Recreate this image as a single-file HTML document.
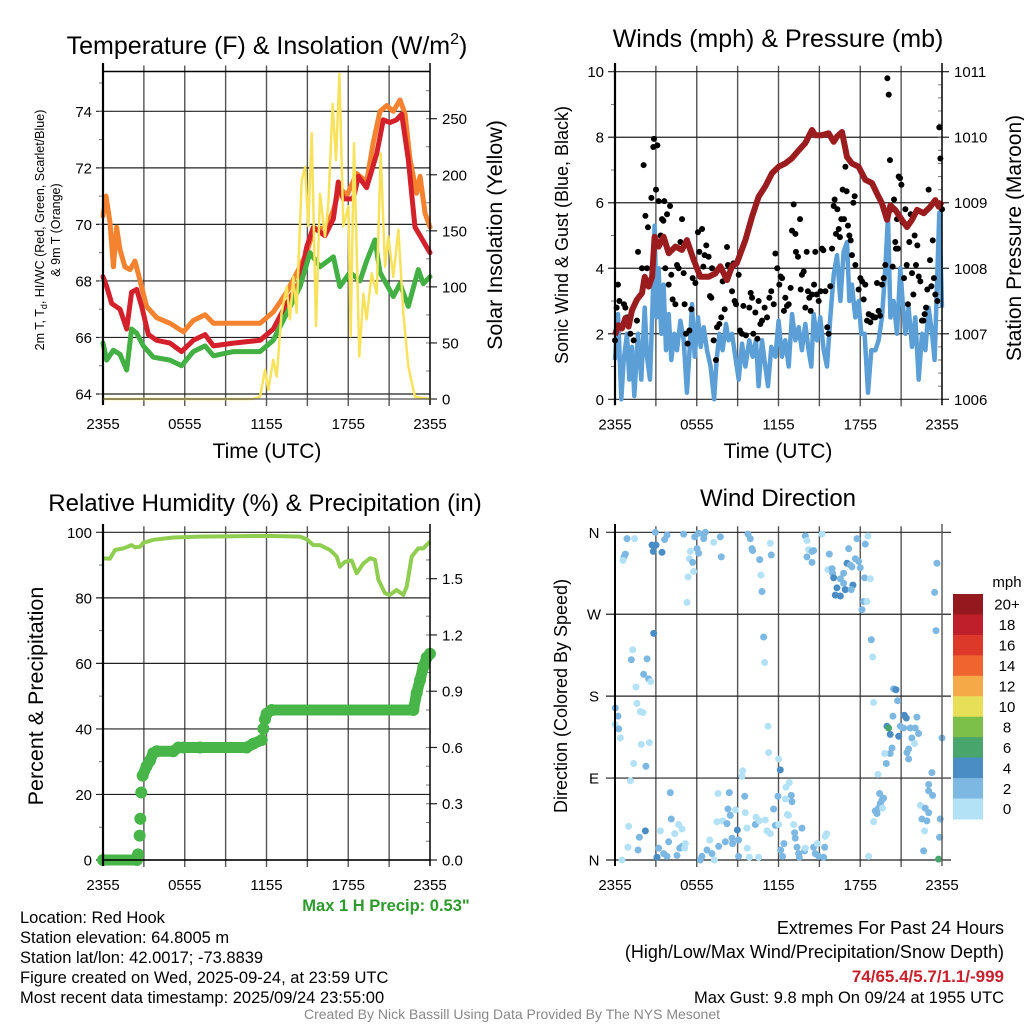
<!DOCTYPE html>
<html><head><meta charset="utf-8">
<style>
html,body{margin:0;padding:0;background:#fff;}
svg{display:block;font-family:"Liberation Sans",Arial,sans-serif;}
</style></head>
<body>
<svg id="fig" width="1024" height="1024" viewBox="0 0 1024 1024" xmlns="http://www.w3.org/2000/svg">
<rect width="1024" height="1024" fill="#fff"/>
</svg>
<script>
// ---------- DATA ----------
const xTickLabels = ["2355","0555","1155","1755","2355"];
// Temperature panel
const t9mHours = [0,0.22,0.51,0.76,1.00,1.25,1.61,1.98,2.35,2.72,3.20,3.94,4.92,5.90,6.63,7.49,8.10,9.57,11.52,12.50,13.48,14.46,14.95,15.44,16.42,16.91,17.39,17.88,18.62,19.35,19.84,20.33,20.82,21.31,21.80,22.17,22.53,23.02,23.27,23.63,24];
const t9mValues = [70.3,71.0,70.1,68.5,69.9,69.1,68.5,68.4,68.7,68.0,67.1,66.7,66.5,66.2,66.6,66.8,66.5,66.5,66.5,66.9,67.6,68.5,69.0,69.8,69.9,70.5,71.3,71.0,71.8,71.5,72.9,74.0,74.2,74.0,74.4,73.9,72.3,71.1,71.7,70.4,69.9];
const t2mHours = [0,0.27,0.64,1.25,1.74,2.10,2.47,2.84,3.33,3.94,4.92,5.77,6.63,7.49,8.10,9.57,11.52,12.50,13.48,14.46,14.95,15.44,16.29,16.91,17.27,17.64,18.37,18.74,19.35,20.09,20.57,21.06,21.55,21.92,22.41,22.90,23.27,23.63,24];
const t2mValues = [68.15,67.8,67.2,67.0,66.3,67.6,67.7,67.1,66.1,65.9,65.8,65.5,65.9,66.1,65.7,65.8,65.9,66.3,67.2,68.0,69.2,69.9,69.6,70.2,71.5,70.9,70.9,71.7,71.3,72.5,73.7,73.6,73.7,73.9,72.3,69.9,69.6,69.3,69.0];
const tdHours = [0,0.27,0.76,1.25,1.74,2.10,2.47,2.96,3.69,4.92,5.77,6.63,7.49,8.10,9.57,11.52,12.50,13.48,14.46,15.19,15.93,16.91,17.39,18.13,18.86,19.35,19.96,20.33,21.31,21.80,22.41,23.14,23.51,24];
const tdValues = [65.8,65.2,65.55,65.4,64.85,66.3,66.15,65.7,65.3,65.2,65.0,65.5,65.7,65.35,65.5,65.5,65.9,66.85,67.8,69.0,68.5,68.85,67.8,68.3,68.0,68.7,69.45,68.3,67.45,67.9,67.1,68.4,67.9,68.15];
const solarHours = [0,11.03,11.52,11.89,12.13,12.50,12.75,13.11,13.48,13.72,13.97,14.21,14.58,14.83,15.07,15.32,15.63,15.93,16.29,16.54,16.86,17.10,17.35,17.64,18.01,18.18,18.42,18.81,19.11,19.35,19.72,20.09,20.38,20.70,20.94,21.31,21.68,22.04,22.41,22.90,24];
const solarValues = [0,0,2,26,8,35,20,77,100,71,109,77,195,207,154,237,65,183,145,175,263,213,290,154,172,56,228,38,94,71,112,94,219,118,145,109,151,77,29,2,0];
const tempTicks = [64,66,68,70,72,74];
const solarTicks = [0,50,100,150,200,250];
// Wind panel
const windHours = [0,.22,.46,.64,.88,1.05,1.25,1.42,1.69,1.93,2.18,2.35,2.57,2.77,2.91,3.06,3.20,3.40,3.57,3.74,3.94,4.13,4.35,4.55,4.80,5.04,5.28,5.46,5.65,5.85,6.09,6.29,6.51,6.75,7.02,7.27,7.46,7.66,7.90,8.15,8.34,8.59,8.83,9.08,9.32,9.57,9.86,10.11,10.35,10.54,10.79,11.03,11.23,11.47,11.77,12.01,12.26,12.50,12.75,12.99,13.24,13.48,13.72,13.97,14.21,14.41,14.58,14.83,15.07,15.32,15.56,15.80,16.05,16.29,16.54,16.78,17.03,17.20,17.39,17.64,17.88,18.08,18.32,18.57,18.81,19.11,19.35,19.60,19.84,20.04,20.21,20.45,20.70,20.94,21.11,21.31,21.55,21.80,22.04,22.29,22.53,22.78,23.02,23.27,23.46,23.63,23.80,24];
const windValues = [1.2,2.6,0.0,1.2,2.0,0.6,1.6,0.1,2.0,0.6,2.8,1.3,0.6,3.0,5.3,2.5,4.0,2.0,3.5,1.5,2.6,1.2,2.0,1.5,2.4,1.8,0.2,1.4,2.9,1.3,2.5,1.6,2.2,1.5,1.0,0.0,1.2,2.0,1.5,2.3,1.8,2.0,1.3,0.6,1.7,1.0,1.8,1.3,1.8,0.4,1.8,1.0,0.4,1.6,1.3,2.4,1.3,1.8,1.0,2.6,1.8,2.2,1.5,2.3,1.5,1.0,2.6,1.8,2.5,1.5,1.0,2.5,3.8,4.4,3.0,4.5,4.8,3.0,3.5,2.5,3.0,2.0,2.0,0.2,1.5,1.5,1.8,2.5,4.0,5.6,2.5,3.0,2.0,4.0,3.0,2.0,2.8,1.6,2.5,0.6,2.0,1.5,2.8,2.0,1.2,3.5,5.7,2.8];
const gustPoints = [[0,1.8],[0.12,2.8],[0.22,3.5],[0.32,3.0],[0.66,2.9],[0.76,2.8],[0.88,2.5],[1.13,2.0],[1.37,1.8],[1.61,2.4],[1.69,4.5],[1.98,4.0],[2.10,7.15],[2.23,5.6],[2.35,4.0],[2.42,5.25],[2.67,6.15],[2.81,7.7],[2.86,7.95],[3.01,6.4],[3.11,7.75],[3.20,6.05],[3.35,5.0],[3.45,5.5],[3.55,5.45],[3.62,6.05],[3.69,4.0],[3.82,5.65],[3.94,3.5],[4.04,5.9],[4.13,3.8],[4.23,3.05],[4.43,2.9],[4.55,4.1],[4.67,4.0],[4.80,4.8],[4.92,5.5],[5.04,3.85],[5.11,2.9],[5.21,2.0],[5.33,1.7],[5.46,2.1],[5.60,2.75],[5.70,3.7],[5.90,3.55],[6.09,5.1],[6.19,4.5],[6.39,5.2],[6.48,4.05],[6.58,4.4],[6.70,4.7],[6.87,4.35],[6.97,3.15],[7.07,3.1],[7.12,4.0],[7.24,1.8],[7.41,1.2],[7.49,2.2],[7.66,2.3],[7.80,2.5],[7.90,3.6],[8.05,2.75],[8.22,4.65],[8.29,4.1],[8.46,4.0],[8.59,3.3],[8.69,4.15],[8.78,3.0],[8.88,2.9],[9.08,3.8],[9.17,2.1],[9.32,2.0],[9.42,2.85],[9.61,1.95],[9.86,2.8],[9.96,3.25],[10.06,3.1],[10.15,2.0],[10.30,2.65],[10.45,1.85],[10.54,3.0],[10.67,2.3],[10.79,2.4],[10.98,2.8],[11.16,2.5],[11.33,3.1],[11.47,3.3],[11.65,2.9],[11.77,4.45],[11.91,4.0],[12.06,3.5],[12.16,3.75],[12.26,3.7],[12.40,2.7],[12.50,3.1],[12.62,2.85],[12.75,2.9],[12.89,3.4],[12.99,5.15],[13.11,5.95],[13.24,5.05],[13.28,4.5],[13.43,4.35],[13.58,5.5],[13.63,3.35],[13.72,3.8],[13.85,3.9],[13.97,2.8],[14.07,4.5],[14.16,3.3],[14.26,3.1],[14.36,2.7],[14.46,3.2],[14.61,3.5],[14.70,4.5],[14.80,3.2],[14.95,3.0],[15.09,3.3],[15.19,4.6],[15.29,4.55],[15.44,3.3],[15.58,2.2],[15.68,2.0],[15.80,3.45],[15.93,4.6],[16.05,5.9],[16.12,6.1],[16.22,5.05],[16.32,5.8],[16.42,5.2],[16.51,4.95],[16.61,5.5],[16.71,6.4],[16.81,5.5],[16.91,7.1],[17.00,6.35],[17.10,5.3],[17.20,5.0],[17.30,4.85],[17.39,4.4],[17.49,6.0],[17.59,6.2],[17.64,4.1],[17.88,3.35],[18.01,3.7],[18.13,3.6],[18.25,3.05],[18.37,3.5],[18.50,2.4],[18.62,2.6],[18.74,2.35],[18.86,2.55],[18.98,2.5],[19.11,2.5],[19.23,3.55],[19.35,2.7],[19.45,2.55],[19.60,3.5],[19.72,3.7],[19.84,4.1],[19.99,9.8],[20.09,9.3],[20.18,7.3],[20.28,5.8],[20.38,4.05],[20.48,6.1],[20.57,4.8],[20.62,4.6],[20.70,5.5],[20.77,4.6],[20.82,6.8],[20.92,6.75],[21.02,6.55],[21.11,5.4],[21.21,3.7],[21.31,5.8],[21.41,4.1],[21.50,2.9],[21.60,4.8],[21.70,5.65],[21.80,3.85],[21.90,3.2],[21.99,5.0],[22.09,4.1],[22.19,4.7],[22.29,3.75],[22.41,3.6],[22.53,2.4],[22.63,2.4],[22.73,2.6],[22.83,2.8],[22.92,3.35],[23.02,6.4],[23.12,4.25],[23.22,3.45],[23.32,4.85],[23.41,3.7],[23.51,3.2],[23.66,3.0],[23.80,8.3],[23.88,7.35],[24.00,5.8]];
const presHours = [0,.22,.51,.76,1.0,1.25,1.61,1.98,2.18,2.47,2.72,2.91,3.20,3.57,3.94,4.43,4.92,5.28,5.77,6.26,6.87,7.36,7.73,8.22,8.59,8.95,9.57,10.06,10.54,11.03,11.52,12.01,12.50,12.99,13.48,13.97,14.46,14.70,15.19,15.68,16.05,16.29,16.66,17.03,17.39,17.88,18.37,18.86,19.23,19.60,19.96,20.21,20.57,21.06,21.43,21.80,22.17,22.66,23.14,23.51,23.76,24];
const presValues = [1006.98,1007.13,1007.08,1007.24,1007.11,1007.36,1007.52,1007.62,1007.87,1007.72,1007.87,1008.48,1008.33,1008.48,1008.23,1008.33,1008.28,1008.43,1008.13,1007.87,1007.87,1007.92,1008.03,1007.82,1008.03,1008.08,1008.43,1008.79,1009.09,1009.25,1009.45,1009.55,1009.6,1009.68,1009.80,1009.91,1010.11,1010.03,1010.03,1010.06,1009.93,1010.01,1010.08,1009.70,1009.60,1009.55,1009.35,1009.30,1009.14,1008.99,1008.74,1008.96,1008.89,1008.74,1008.63,1008.74,1008.89,1008.84,1008.94,1009.04,1008.94,1009.02];
const windTicks = [0,2,4,6,8,10];
const presTicks = [1006,1007,1008,1009,1010,1011];
// RH panel
const rhHours = [0,.51,.88,1.49,2.10,2.35,2.72,2.96,3.69,5.16,7.12,12.01,14.46,14.95,15.44,15.93,16.66,17.15,17.39,17.76,18.25,18.62,19.11,19.60,19.96,20.21,20.70,21.06,21.55,22.04,22.29,22.66,23.14,23.51,24];
const rhValues = [92.1,91.9,94.6,95.1,96.1,95.4,95.6,96.8,97.7,98.4,98.7,98.9,98.7,97.9,96.1,96.1,94.6,92.6,89.5,91.0,91.4,87.5,90.5,92.1,91.6,85.5,81.4,80.9,82.4,80.9,83.4,92.6,95.1,95.1,97.2];
const precipHours = [0,2.49,2.57,2.69,2.74,2.81,2.91,3.20,3.45,3.69,3.94,5.16,5.53,5.90,7.12,10.54,11.03,11.65,11.77,11.89,12.01,12.38,22.78,23.02,23.27,23.51,23.76,24];
const precipValues = [0,0,0.03,0.13,0.22,0.36,0.45,0.50,0.53,0.57,0.58,0.58,0.60,0.60,0.60,0.60,0.62,0.64,0.70,0.75,0.78,0.80,0.80,0.89,0.96,1.03,1.08,1.10];
const rhTicks = [0,20,40,60,80,100];
const precipTicks = ["0.0","0.3","0.6","0.9","1.2","1.5"];
// Wind direction panel: [hour, degrees, mph]
const dirPoints = [[0.88,353,3],[1.44,353,1],[0.76,336,3],[0.66,333,3],[0.59,329,1],[2.96,360,3],[2.72,346,5],[3.01,346,5],[2.81,339,5],[3.45,338,5],[3.64,352,3],[3.82,357,3],[5.04,358,3],[5.85,355,3],[6.14,359,3],[6.51,357,3],[6.63,360,3],[6.51,353,3],[7.24,349,1],[7.73,355,3],[5.53,339,1],[6.02,342,3],[6.14,337,3],[5.45,331,1],[5.70,327,3],[5.77,317,1],[5.36,311,1],[5.28,283,1],[7.80,333,3],[9.76,358,3],[9.93,353,3],[10.05,342,3],[10.10,340,3],[10.62,330,3],[11.40,348,1],[11.47,335,3],[10.71,313,1],[10.79,295,3],[13.97,356,3],[14.09,351,1],[15.19,358,1],[14.21,341,1],[14.09,333,3],[14.46,339,3],[14.58,340,3],[14.46,327,3],[15.73,336,3],[17.15,342,3],[17.76,353,3],[18.37,347,3],[18.57,356,1],[17.64,331,3],[17.88,328,3],[17.03,326,5],[17.27,324,3],[17.39,322,3],[18.00,321,3],[15.63,319,1],[15.93,320,3],[15.97,315,3],[16.78,315,3],[16.05,310,5],[16.54,309,3],[16.29,299,5],[16.78,304,3],[16.90,297,5],[17.46,302,5],[16.17,291,5],[16.54,290,5],[17.34,297,3],[18.32,310,3],[18.74,309,1],[18.25,284,3],[18.49,284,1],[18.13,275,3],[23.63,326,3],[23.46,294,3],[23.56,252,3],
[2.84,249,5],[10.91,245,3],[18.81,242,3],[18.91,223,1],[10.98,217,1],[1.20,220,3],[1.30,231,1],[2.35,221,3],[2.10,204,3],[2.47,199,3],[2.62,196,1],[1.54,190,1],[1.61,172,1],[1.86,163,1],[2.05,162,1],[0.02,167,3],[0.22,158,3],[0.0,149,1],[0.27,144,3],[0.39,134,1],[1.93,127,1],[2.52,129,1],[1.37,106,1],[2.27,103,3],[1.13,87,1],[11.23,147,1],[11.28,118,1],[12.01,111,1],[12.13,99,5],[18.98,173,1],[20.45,188,3],[20.62,187,5],[20.74,175,3],[20.40,158,3],[21.23,159,5],[21.38,156,5],[22.16,157,3],[19.96,147,5],[20.08,145,7],[20.20,138,5],[20.82,136,5],[20.94,147,3],[21.18,145,3],[21.67,145,3],[21.79,134,3],[22.04,145,3],[22.28,139,3],[21.99,128,1],[20.33,123,3],[20.20,117,3],[19.79,117,1],[21.55,122,3],[21.43,118,3],[21.55,111,3],[19.91,106,3],[19.30,94,1],[23.26,96,3],[24.0,134,3],
[4.06,74,3],[4.13,45,3],[1.00,37,1],[2.23,32,5],[1.79,25,3],[0.95,14,1],[1.69,11,3],[0.51,0,1],[3.33,32,1],[3.20,13,3],[3.08,3,5],[3.57,7,3],[3.82,4,3],[3.94,20,3],[4.38,29,1],[4.67,39,1],[4.92,34,1],[4.55,5,3],[4.75,13,3],[4.92,15,3],[5.16,18,1],[5.11,13,1],[6.38,4,3],[6.26,0,3],[6.75,11,3],[6.95,22,1],[7.12,7,3],[7.29,0,1],[7.61,15,3],[7.48,42,1],[7.56,73,1],[7.90,43,1],[8.22,40,3],[8.29,56,3],[8.39,74,3],[8.46,49,3],[8.10,20,3],[8.59,24,3],[8.63,18,3],[8.83,55,1],[8.98,33,5],[9.07,22,3],[9.07,4,3],[9.32,92,1],[9.37,98,1],[9.52,70,3],[9.56,52,1],[9.69,35,1],[9.71,13,1],[9.86,3,1],[10.30,39,3],[10.35,47,1],[10.54,3,1],[10.59,43,1],[11.03,44,1],[11.15,32,1],[11.40,29,1],[11.64,56,3],[11.77,38,3],[11.96,70,3],[12.01,39,1],[12.16,11,3],[12.30,4,3],[12.40,18,3],[12.50,67,1],[12.55,80,1],[12.79,85,1],[12.94,71,3],[12.99,64,3],[12.65,50,1],[12.74,49,1],[13.11,39,1],[13.18,30,3],[13.23,24,3],[13.72,35,3],[13.36,14,3],[13.48,7,3],[13.53,3,3],[13.92,10,3],[13.97,13,1],[14.58,14,3],[14.70,7,3],[14.85,18,1],[14.95,4,3],[15.31,3,3],[15.39,14,3],[15.43,26,1],[15.53,29,1],[18.61,4,1],[18.98,42,1],[19.10,54,3],[19.23,51,3],[19.35,57,3],[19.42,73,3],[19.47,62,3],[19.59,66,3],[19.71,68,3],[19.64,57,1],[22.41,60,1],[22.53,45,3],[22.89,43,3],[22.77,57,3],[23.02,52,3],[22.72,32,1],[22.65,10,3],[23.02,83,3],[23.02,76,3],[23.31,71,3],[23.75,1,7],[23.87,45,3],[23.82,25,3]];
const dirTicks = ["N","E","S","W","N"];
const speedBins = ["0","2","4","6","8","10","12","14","16","18","20+"];
const speedColors = ["#b3e1f6","#7db8e2","#4a8cc4","#48a66c","#7cc04a","#e8df59","#f5a947","#ef642f","#dd392b","#bf1f2a","#94181d"];

// ---------- HELPERS ----------
const NS = "http://www.w3.org/2000/svg";
const svg = document.getElementById("fig");
const TICK = 15;
function mk(tag, attrs, parent) {
  const e = document.createElementNS(NS, tag);
  for (const k in attrs) e.setAttribute(k, attrs[k]);
  (parent || svg).appendChild(e);
  return e;
}
function txt(s, x, y, size, opts, parent) {
  const a = Object.assign({x: x, y: y, "font-size": size, fill: "#000", "text-anchor": "middle"}, opts || {});
  const t = mk("text", a, parent);
  t.textContent = s;
  return t;
}
function lin(d0, d1, p0, p1) { return v => p0 + (v - d0) / (d1 - d0) * (p1 - p0); }
function pathFrom(xs, ys, fx, fy) {
  let d = "";
  for (let i = 0; i < Math.min(xs.length, ys.length); i++) d += (i ? "L" : "M") + fx(xs[i]).toFixed(1) + "," + fy(ys[i]).toFixed(1);
  return d;
}
function panelFrame(g, x0, x1, y0, y1, fx) {
  for (let h = 3; h < 24; h += 3) {
    const l = mk("line", {x1: fx(h), x2: fx(h), y1: y0 - 6, y2: y1 + 7, stroke: "#555", "stroke-width": 1.4}, g);
    
    
  }
  xTickLabels.forEach((s, i) => {
    const x = fx(i * 6);
    const t = txt(s, x, y1 + 30, TICK, {}, g);
    
    
  });
}

// ---------- PANEL 1: Temperature ----------
(function(){
  const g = mk("g", {});
  
  
  const x0 = 103, x1 = 430, y0 = 71.5, y1 = 399;
  const fx = lin(0, 24, x0, x1);
  const fy = lin(64, 74, 394, 111.3);
  const fs = lin(0, 250, 399, 118.7);
  panelFrame(g, x0, x1, y0, y1, fx);
  tempTicks.forEach(v => {
    const l = mk("line", {x1: x0 - 7, x2: x1, y1: fy(v), y2: fy(v), stroke: "#222", "stroke-width": 1.2}, g);
    
    
    const t = txt(String(v), x0 - 11, fy(v) + 5.5, TICK, {"text-anchor": "end"}, g);
    
    
  });
  for (let v = 64; v <= 75; v++) mk("line", {x1: x0 - 4, x2: x0, y1: fy(v), y2: fy(v), stroke: "#777"}, g);
  solarTicks.forEach(v => {
    mk("line", {x1: x1, x2: x1 + 7, y1: fs(v), y2: fs(v), stroke: "#222", "stroke-width": 1.2}, g);
    const t = txt(String(v), x1 + 12, fs(v) + 5.5, TICK, {"text-anchor": "start"}, g);
    
    
  });
  for (let v = 0; v <= 290; v += 25) mk("line", {x1: x1 - 4, x2: x1, y1: fs(v), y2: fs(v), stroke: "#777"}, g);
  mk("line", {x1: x0, x2: x1, y1: y0, y2: y0, stroke: "#000", "stroke-width": 1.5}, g);
  const series = [[t9mHours, t9mValues, "#f5822f", fy, 5, "orange-9m-temp-line"], [t2mHours, t2mValues, "#d3202a", fy, 5, "red-2m-temp-line"], [tdHours, tdValues, "#43b043", fy, 5, "green-dewpoint-line"], [solarHours, solarValues, "#f8e25c", fs, 2.5, "yellow-solar-line"]];
  series.forEach(s => {
    const p = mk("path", {d: pathFrom(s[0], s[1], fx, s[3]), fill: "none", stroke: s[2], "stroke-width": s[4], "stroke-linejoin": "round", "stroke-linecap": "round"}, g);
    
    
  });
  mk("line", {x1: x0, x2: x0, y1: 63, y2: y1 + 6, stroke: "#000", "stroke-width": 2.2}, g);
  mk("line", {x1: x1, x2: x1, y1: 63, y2: y1 + 6, stroke: "#000", "stroke-width": 1.5}, g);
  mk("line", {x1: x0, x2: x1, y1: y1, y2: y1, stroke: "#555", "stroke-width": 1.2}, g);
  const ti = mk("text", {x: 267, y: 54, "font-size": 25, "text-anchor": "middle"}, g);
  
  
  ti.innerHTML = 'Temperature (F) &amp; Insolation (W/m<tspan dy="-10" font-size="16">2</tspan><tspan dy="10">)</tspan>';
  const yl = mk("text", {transform: "translate(44,230) rotate(-90)", "font-size": 12.5, "text-anchor": "middle"}, g);
  
  
  yl.innerHTML = '2m T, T<tspan font-size="9" dy="3">d</tspan><tspan dy="-3">, HI/WC (Red, Green, Scarlet/Blue)</tspan>';
  const yl2 = txt("& 9m T (Orange)", 0, 0, 12.5, {transform: "translate(60,230) rotate(-90)"}, g);
  
  
  const yr = txt("Solar Insolation (Yellow)", 0, 0, 21.5, {transform: "translate(502,235) rotate(-90)"}, g);
  
  
  const xl = txt("Time (UTC)", 267, 458, 21, {}, g);
  
  
})();

// ---------- PANEL 2: Winds ----------
(function(){
  const g = mk("g", {});
  
  
  const x0 = 615, x1 = 942, y0 = 71.7, y1 = 399.3;
  const fx = lin(0, 24, x0, x1);
  const fy = lin(0, 10, y1, y0);
  const fp = lin(1006, 1011, y1, y0);
  panelFrame(g, x0, x1, y0, y1, fx);
  windTicks.forEach(v => {
    mk("line", {x1: x0 - 7, x2: x1, y1: fy(v), y2: fy(v), stroke: "#222", "stroke-width": 1.2}, g);
    const t = txt(String(v), x0 - 11, fy(v) + 5.5, TICK, {"text-anchor": "end"}, g);
    
    
  });
  for (let v = 1; v < 10; v += 2) mk("line", {x1: x0 - 4, x2: x0, y1: fy(v), y2: fy(v), stroke: "#777"}, g);
  presTicks.forEach(v => {
    mk("line", {x1: x1, x2: x1 + 7, y1: fp(v), y2: fp(v), stroke: "#222", "stroke-width": 1.2}, g);
    const t = txt(String(v), x1 + 12, fp(v) + 5.5, TICK, {"text-anchor": "start"}, g);
    
    
  });
  for (let v = 1006; v <= 1011; v += 0.2) mk("line", {x1: x1 - 4, x2: x1, y1: fp(v), y2: fp(v), stroke: "#777"}, g);
  const w = mk("path", {d: pathFrom(windHours, windValues, fx, fy), fill: "none", stroke: "#5b9fd6", "stroke-width": 4.5, "stroke-linejoin": "round"}, g);
  
  
  gustPoints.forEach(p => {
    const c = mk("circle", {cx: fx(p[0]), cy: fy(p[1]), r: 3, fill: "#000"}, g);
    
    
  });
  const pr = mk("path", {d: pathFrom(presHours, presValues, fx, fp), fill: "none", stroke: "#9b1c1f", "stroke-width": 6, "stroke-linejoin": "round"}, g);
  
  
  mk("line", {x1: x0, x2: x0, y1: 63, y2: y1 + 6, stroke: "#000", "stroke-width": 2.2}, g);
  mk("line", {x1: x1, x2: x1, y1: 63, y2: y1 + 6, stroke: "#000", "stroke-width": 1.5}, g);
  const ti = txt("Winds (mph) & Pressure (mb)", 778, 47, 25, {}, g);
  
  
  const yl = txt("Sonic Wind & Gust (Blue, Black)", 0, 0, 18, {transform: "translate(568,235) rotate(-90)"}, g);
  
  
  const yr = txt("Station Pressure (Maroon)", 0, 0, 21, {transform: "translate(1021,238) rotate(-90)"}, g);
  
  
  const xl = txt("Time (UTC)", 778, 458, 21, {}, g);
  
  
})();

// ---------- PANEL 3: RH & Precip ----------
(function(){
  const g = mk("g", {});
  
  
  const x0 = 103, x1 = 430, y0 = 532.3, y1 = 860;
  const fx = lin(0, 24, x0, x1);
  const fy = lin(0, 100, y1, y0);
  const fpr = lin(0, 1.5, y1, 578.7);
  panelFrame(g, x0, x1, y0, y1, fx);
  rhTicks.forEach(v => {
    mk("line", {x1: x0 - 7, x2: x1, y1: fy(v), y2: fy(v), stroke: "#222", "stroke-width": 1.2}, g);
    const t = txt(String(v), x0 - 11, fy(v) + 5.5, TICK, {"text-anchor": "end"}, g);
    
    
  });
  for (let v = 10; v < 100; v += 20) mk("line", {x1: x0 - 4, x2: x0, y1: fy(v), y2: fy(v), stroke: "#777"}, g);
  precipTicks.forEach(s => {
    const v = parseFloat(s);
    mk("line", {x1: x1, x2: x1 + 7, y1: fpr(v), y2: fpr(v), stroke: "#222", "stroke-width": 1.2}, g);
    const t = txt(s, x1 + 12, fpr(v) + 5.5, TICK, {"text-anchor": "start"}, g);
    
    
  });
  for (let v = 0.1; v < 1.7; v += 0.1) mk("line", {x1: x1 - 4, x2: x1, y1: fpr(v), y2: fpr(v), stroke: "#777"}, g);
  const rh = mk("path", {d: pathFrom(rhHours, rhValues, fx, fy), fill: "none", stroke: "#8fce50", "stroke-width": 4, "stroke-linejoin": "round"}, g);
  
  
  let pd = "";
  for (let i = 0; i < precipHours.length; i++) {
    const x = fx(precipHours[i]), y = fpr(precipValues[i]);
    if (i === 0) pd += "M" + x + "," + y;
    else {
      const dh = precipHours[i] - precipHours[i - 1];
      if (dh < 0.2 && precipValues[i] - precipValues[i - 1] > 0.05) pd += "M" + x + "," + y;
      else pd += "L" + x + "," + y;
    }
  }
  const pp = mk("path", {d: pd, fill: "none", stroke: "#48b548", "stroke-width": 11, "stroke-linecap": "round", "stroke-linejoin": "round"}, g);
  
  
  precipHours.forEach((h, i) => {
    const c = mk("circle", {cx: fx(h), cy: fpr(precipValues[i]), r: 6, fill: "#48b548"}, g);
    
    
  });
  mk("line", {x1: x0, x2: x0, y1: 524, y2: y1 + 6, stroke: "#000", "stroke-width": 2.2}, g);
  mk("line", {x1: x1, x2: x1, y1: 524, y2: y1 + 6, stroke: "#000", "stroke-width": 1.5}, g);
  mk("line", {x1: x0, x2: x1, y1: y1, y2: y1, stroke: "#000", "stroke-width": 1.5}, g);
  const ti = txt("Relative Humidity (%) & Precipitation (in)", 265, 511, 24, {}, g);
  
  
  const yl = txt("Percent & Precipitation", 0, 0, 21.5, {transform: "translate(43,696) rotate(-90)"}, g);
  
  
  const mp = txt("Max 1 H Precip: 0.53\"", 386, 911, 16.5, {"font-weight": "bold", fill: "#2e9a2e"}, g);
  
  
})();

// ---------- PANEL 4: Wind direction ----------
(function(){
  const g = mk("g", {});
  
  
  const x0 = 615, x1 = 942, y0 = 532.3, y1 = 860;
  const fx = lin(0, 24, x0, x1);
  const fy = lin(0, 360, y1, y0);
  panelFrame(g, x0, x1, y0, y1, fx);
  dirTicks.forEach((s, i) => {
    const v = i * 90;
    mk("line", {x1: x0 - 9, x2: x1 + 9, y1: fy(v), y2: fy(v), stroke: "#222", "stroke-width": 1.2}, g);
    const t = txt(s, x0 - 21, fy(v) + 5.5, TICK, {}, g);
    
    
  });
  function colorFor(sp) { return speedColors[Math.min(10, Math.max(0, Math.floor(sp / 2)))]; }
  dirPoints.forEach(p => {
    const c = mk("circle", {cx: fx(p[0]), cy: fy(p[1]), r: 3.5, fill: colorFor(p[2])}, g);
    
    
  });
  mk("line", {x1: x0, x2: x0, y1: 524, y2: y1 + 6, stroke: "#000", "stroke-width": 2}, g);
  mk("line", {x1: x1, x2: x1, y1: 524, y2: y1 + 6, stroke: "#555", "stroke-width": 1.4}, g);
  const ti = txt("Wind Direction", 778, 506, 24, {}, g);
  
  
  const yl = txt("Direction (Colored By Speed)", 0, 0, 18, {transform: "translate(567,696) rotate(-90)"}, g);
  
  
  const cb = mk("g", {}, g);
  
  
  const bx = 953, bw = 30, by0 = 594, bh = 20.45;
  for (let i = 0; i < speedBins.length; i++) {
    const idx = speedBins.length - 1 - i;
    const r = mk("rect", {x: bx, y: by0 + i * bh, width: bw, height: bh + 0.5, fill: speedColors[idx]}, cb);
    
    
    const t = txt(speedBins[idx], 1007, by0 + i * bh + bh / 2 + 5.5, TICK, {}, cb);
    
    
  }
  const u = txt("mph", 1007, 587, TICK, {}, cb);
  
  
})();

// ---------- FOOTER TEXT ----------
(function(){
  const g = mk("g", {});
  
  
  const lines = ["Location: Red Hook", "Station elevation: 64.8005 m", "Station lat/lon: 42.0017; -73.8839", "Figure created on Wed, 2025-09-24, at 23:59 UTC", "Most recent data timestamp: 2025/09/24 23:55:00"];
  const ys = [923, 943, 963, 983, 1003];
  lines.forEach((s, i) => {
    const t = txt(s, 20, ys[i], 16.5, {"text-anchor": "start"}, g);
    
    
  });
  const g2 = mk("g", {});
  
  
  const e1 = txt("Extremes For Past 24 Hours", 1004, 934, 18, {"text-anchor": "end"}, g2);
  
  
  const e2 = txt("(High/Low/Max Wind/Precipitation/Snow Depth)", 1004, 958, 18, {"text-anchor": "end"}, g2);
  
  
  const e3 = txt("74/65.4/5.7/1.1/-999", 1004, 982, 17, {"text-anchor": "end", "font-weight": "bold", fill: "#c8202c"}, g2);
  
  
  const e4 = txt("Max Gust: 9.8 mph On 09/24 at 1955 UTC", 1004, 1003, 16.5, {"text-anchor": "end"}, g2);
  
  
  const cr = txt("Created By Nick Bassill Using Data Provided By The NYS Mesonet", 512, 1019, 14, {fill: "#888"});
  
  
})();
</script>
</body></html>
